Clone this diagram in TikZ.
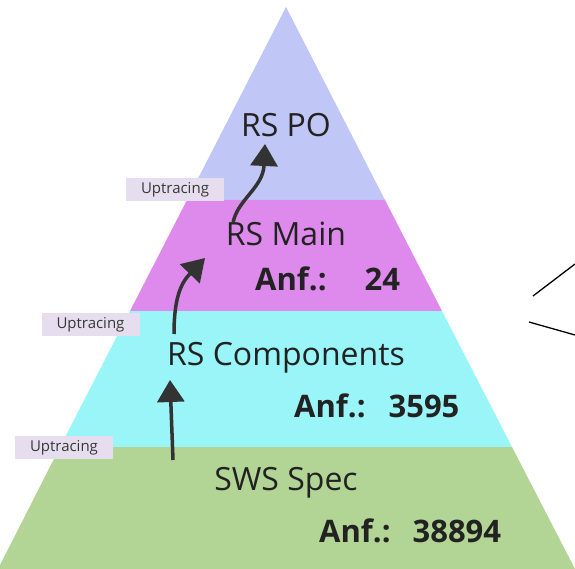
\documentclass[tikz,border=0pt]{standalone}
\usepackage{fontspec}
\setmainfont{Open Sans}
\usetikzlibrary{arrows.meta}
\definecolor{poblue}{HTML}{C0C6F5}
\definecolor{mainpink}{HTML}{DE8AEC}
\definecolor{compcyan}{HTML}{99F5F7}
\definecolor{swsgreen}{HTML}{B2D596}
\definecolor{tracebox}{HTML}{E6DEEE}
\definecolor{ink}{HTML}{222222}
\definecolor{arrowgray}{HTML}{333333}
\tikzstyle{level} = [anchor=base, text=ink, font=\fontsize{32}{38}\selectfont, inner sep=0pt]
\tikzstyle{count} = [anchor=base west, text=ink, font=\fontsize{31}{37}\selectfont\bfseries, inner sep=0pt]
\tikzstyle{trace} = [fill=tracebox, minimum width=98pt, minimum height=23pt, inner sep=0pt, text=ink!90, font=\fontsize{15}{18}\selectfont]
\tikzstyle{arrow} = [line width=3.5pt, draw=arrowgray, -{Triangle[length=22pt,width=27pt]}]

\begin{document}
\begin{tikzpicture}[x=1pt, y=-1pt]
        \useasboundingbox (0,0) rectangle (575,569);
        \fill [poblue] (286,7) -- (385,200) -- (187,200) -- cycle;
        \fill [mainpink] (187,200) -- (385,200) -- (442,311) -- (130,311) -- cycle;
        \fill [compcyan] (130,311) -- (442,311) -- (512,447) -- (60,447) -- cycle;
        \fill [swsgreen] (60,447) -- (512,447) -- (575,569) -- (-2,569) -- cycle;

        \node (rspo) [level] at (286,137) {RS PO};
        \node (rsmain) [level] at (286,245) {RS Main};
        \node (rscomp) [level] at (286,365) {RS Components};
        \node (swsspec) [level] at (286,490) {SWS Spec};

        \node (anfmain) [count] at (255,290) {Anf.:\hspace{38pt}24};
        \node (anfcomp) [count] at (294,417) {Anf.:\hspace{23pt}3595};
        \node (anfsws) [count] at (319,542) {Anf.:\hspace{22pt}38894};

        \node (traceone) [trace] at (175,189.5) {Uptracing};
        \node (tracetwo) [trace] at (90.5,324.5) {Uptracing};
        \node (tracethree) [trace] at (64,447.5) {Uptracing};

        \coordinate (mainfoot) at (233,223);
        \coordinate (pohead) at (265,144);
        \coordinate (compfoot) at (174,334);
        \coordinate (mainhead) at (205,258);
        \coordinate (swsfoot) at (173,460);
        \coordinate (comphead) at (170,380);

        \draw [arrow] (mainfoot) .. controls (237,200) and (263,188) .. (pohead);
        \draw [arrow] (compfoot) .. controls (174,300) and (180,284) .. (mainhead);
        \draw [arrow] (swsfoot) -- (comphead);

        \coordinate (lineone) at (533,296);
        \coordinate (linetwo) at (529,322);
        \draw [line width=1.3pt] (lineone) -- (575,264);
        \draw [line width=1.3pt] (linetwo) -- (575,335);
    \end{tikzpicture}
\end{document}
